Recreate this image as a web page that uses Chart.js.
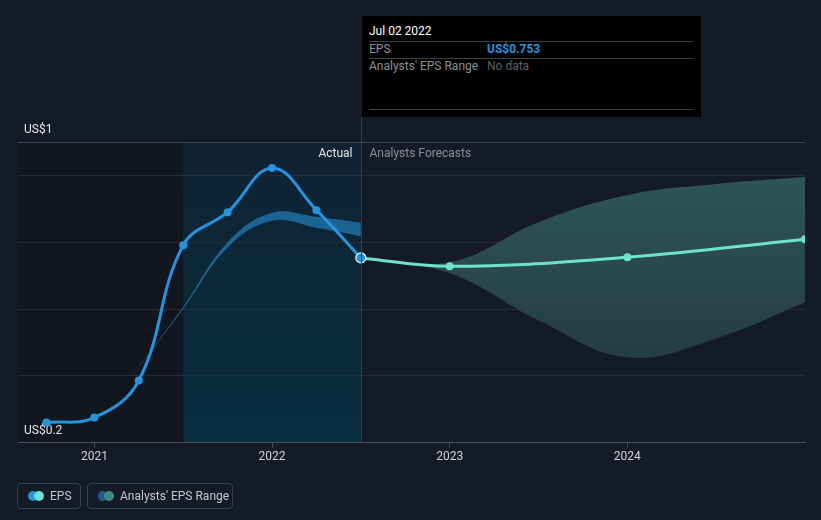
<!DOCTYPE html>
<html>
<head>
<meta charset="utf-8">
<script src="https://cdn.jsdelivr.net/npm/chart.js@4.4.0/dist/chart.umd.min.js"></script>
<style>
  html,body{margin:0;padding:0;background:#151b26;}
  body{width:821px;height:520px;position:relative;overflow:hidden;font-family:Roboto,"Open Sans",sans-serif;}
  #wrap{position:absolute;left:0;top:0;width:821px;height:520px;}
  #tip{position:absolute;left:362px;top:16px;width:339px;height:101px;background:#000;}
  #tip .row{position:absolute;left:7px;right:8px;font-size:12px;}
  #tip .sep{position:absolute;left:7px;right:8px;height:1px;background:#3c3f44;}
  #tip .val{position:absolute;left:118px;}
  .leg{position:absolute;top:483px;height:26px;border:1px solid #3a404b;border-radius:4px;box-sizing:border-box;color:#c3c7ce;font-size:12px;}
  .leg span.t{position:absolute;top:5px;}
  .dot{position:absolute;top:7px;width:10px;height:10px;border-radius:50%;}
</style>
</head>
<body>
<div id="wrap"><canvas id="c" width="821" height="520"></canvas></div>
<div id="tip">
  <div class="row" style="top:8px;color:#fff;">Jul 02 2022</div>
  <div class="sep" style="top:25px;"></div>
  <div class="row" style="top:26px;color:#8d9096;">EPS<span class="val" style="color:#2394df;font-weight:bold;">US$0.753</span></div>
  <div class="sep" style="top:42px;"></div>
  <div class="row" style="top:43px;color:#8d9096;">Analysts' EPS Range<span class="val" style="color:#5d6066;">No data</span></div>
  <div class="sep" style="top:93px;"></div>
</div>
<div class="leg" style="left:17px;width:64px;">
  <div class="dot" style="left:10px;background:#2394df;"></div>
  <div class="dot" style="left:16px;background:#6de2cf;"></div>
  <span class="t" style="left:32px;">EPS</span>
</div>
<div class="leg" style="left:87px;width:146px;">
  <div class="dot" style="left:10px;background:#1f5f8b;"></div>
  <div class="dot" style="left:16px;background:#3d8a80;"></div>
  <span class="t" style="left:32px;">Analysts' EPS Range</span>
</div>
<script>
// ---- data ----
const epsYears = [2020.73, 2021.0, 2021.25, 2021.5, 2021.75, 2022.0, 2022.25, 2022.5];
const epsValues = [0.26, 0.275, 0.386, 0.791, 0.89, 1.022, 0.896, 0.753];

const forecastYears = [2022.5, 2023.0, 2024.0, 2025.0];
const forecastValues = [0.753, 0.728, 0.755, 0.809];

const forecastRangeYears = [2022.5, 2023.0, 2023.5, 2024.0, 2024.5, 2025.0];
const forecastRangeHigh = [0.755, 0.74, 0.86, 0.941, 0.974, 0.995];
const forecastRangeLow  = [0.753, 0.707, 0.566, 0.455, 0.512, 0.62];

const pastRangeYears = [2021.2, 2021.5, 2021.75, 2022.0, 2022.25, 2022.5];
const pastRangeHigh = [0.392, 0.606, 0.80, 0.888, 0.876, 0.858];
const pastRangeLow  = [0.392, 0.600, 0.784, 0.864, 0.843, 0.818];

const xTickYears = [2021, 2022, 2023, 2024];
const yTickValues = [0.2, 0.4, 0.6, 0.8, 1.0, 1.1];
const yTickLabels = {"0.2": "US$0.2", "1.1": "US$1"};

const forecastStart = 2022.5;
const shadeStart = 2021.5;

const pts = (xs, ys) => xs.map((x, i) => ({x: x, y: ys[i]}));

const regionPlugin = {
  id: 'regions',
  beforeDraw(chart) {
    const {ctx, chartArea: a, scales: {x}} = chart;
    const xs = x.getPixelForValue(shadeStart);
    const xf = x.getPixelForValue(forecastStart);
    ctx.save();
    ctx.fillStyle = '#12171f';
    ctx.fillRect(a.left, a.top, xs - a.left, a.bottom - a.top);
    const g = ctx.createLinearGradient(0, a.top, 0, a.bottom);
    g.addColorStop(0, '#0f2232');
    g.addColorStop(1, '#082f40');
    ctx.fillStyle = g;
    ctx.fillRect(xs, a.top, xf - xs, a.bottom - a.top);
    ctx.restore();
  },
  afterDatasetsDraw(chart) {
    const {ctx, chartArea: a, scales: {x}} = chart;
    const xf = Math.round(x.getPixelForValue(forecastStart)) + 0.5;
    ctx.save();
    ctx.strokeStyle = '#2a4555';
    ctx.lineWidth = 1;
    ctx.beginPath();
    ctx.moveTo(xf, 117);
    ctx.lineTo(xf, a.bottom);
    ctx.stroke();
    ctx.font = '12px Roboto, sans-serif';
    ctx.textBaseline = 'middle';
    ctx.textAlign = 'right';
    ctx.fillStyle = '#e6e6e6';
    ctx.fillText('Actual', xf - 9, a.top + 12);
    ctx.textAlign = 'left';
    ctx.fillStyle = '#8a8f97';
    ctx.fillText('Analysts Forecasts', xf + 8, a.top + 12);
    ctx.restore();
  }
};

const epsPointRadius = epsYears.map((v, i) => i === epsYears.length - 1 ? 5 : 4);
const epsPointBorder = epsYears.map((v, i) => i === epsYears.length - 1 ? '#ffffff' : '#2394df');
const epsPointBorderW = epsYears.map((v, i) => i === epsYears.length - 1 ? 1.2 : 0);

new Chart(document.getElementById('c'), {
  type: 'line',
  data: {
    datasets: [
      { label: 'EPS', data: pts(epsYears, epsValues), borderColor: '#2394df', backgroundColor: '#2394df',
        borderWidth: 3, tension: 0.4, pointRadius: epsPointRadius, pointBackgroundColor: '#2394df',
        pointBorderColor: epsPointBorder, pointBorderWidth: epsPointBorderW, fill: false },
      { label: 'Forecast', data: pts(forecastYears, forecastValues), borderColor: '#6de2cf', backgroundColor: '#6de2cf',
        borderWidth: 3, tension: 0.4, pointRadius: [0, 4, 4, 4], pointBackgroundColor: '#6de2cf', pointBorderWidth: 0, fill: false },
      { label: 'pastHigh', data: pts(pastRangeYears, pastRangeHigh), borderWidth: 0, pointRadius: 0, tension: 0.4,
        backgroundColor: 'rgba(32,112,165,0.85)', fill: 3 },
      { label: 'pastLow', data: pts(pastRangeYears, pastRangeLow), borderWidth: 0, pointRadius: 0, tension: 0.4, fill: false },
      { label: 'fcHigh', data: pts(forecastRangeYears, forecastRangeHigh), borderWidth: 0, pointRadius: 0, tension: 0.4,
        backgroundColor: (c) => {
          const a = c.chart.chartArea; if (!a) return '#2a4d50';
          const g = c.chart.ctx.createLinearGradient(0, a.top, 0, a.bottom);
          g.addColorStop(0, '#30595c'); g.addColorStop(1, '#213238'); return g;
        }, fill: 5 },
      { label: 'fcLow', data: pts(forecastRangeYears, forecastRangeLow), borderWidth: 0, pointRadius: 0, tension: 0.4, fill: false }
    ]
  },
  options: {
    responsive: false,
    animation: false,
    events: [],
    layout: { padding: { left: 6, right: 16, top: 142, bottom: 54 } },
    plugins: { legend: { display: false }, tooltip: { enabled: false } },
    scales: {
      x: {
        type: 'linear', min: 2020.57, max: 2025.0,
        afterBuildTicks: (s) => { s.ticks = xTickYears.map(v => ({value: v})); },
        ticks: { callback: (v) => String(v), color: '#d0d3d8', font: { family: 'Roboto', size: 12 }, padding: 2, maxRotation: 0 },
        grid: { drawOnChartArea: false, drawTicks: true, tickLength: 5, color: '#4a505b' },
        border: { display: true, color: '#4a505b' }
      },
      y: {
        type: 'linear', min: 0.2, max: 1.1,
        afterBuildTicks: (s) => { s.ticks = yTickValues.map(v => ({value: v})); },
        ticks: { mirror: true, padding: 6, labelOffset: -12, color: '#e3e5e8', font: { family: 'Roboto', size: 12 },
          callback: (v) => yTickLabels[String(v)] || '' },
        grid: { drawTicks: false, color: (c) => {
          const v = c.tick && c.tick.value;
          if (v === 1.1) return '#3d434d';
          if (v === 0.2) return '#4a505b';
          return '#262c37';
        } },
        border: { display: false }
      }
    }
  },
  plugins: [regionPlugin]
});
</script>
</body>
</html>
